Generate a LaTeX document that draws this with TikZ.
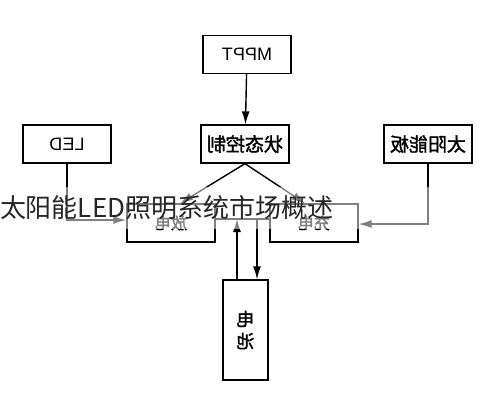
\documentclass[tikz,border=0pt]{standalone}
\usepackage{fontspec}
\usepackage{graphicx}
\setmainfont{Liberation Sans}
\newfontfamily\cjk{Noto Sans CJK SC}
\newfontfamily\cjkbold[FakeBold=1.5]{Noto Sans CJK SC}
\usetikzlibrary{arrows.meta, calc}
\newcommand{\flip}[1]{\reflectbox{#1}}

\begin{document}
\begin{tikzpicture}[
    x=1pt, y=-1pt,
    unit/.style={rectangle, draw=black, line width=1.3pt, fill=white,
        minimum width=88pt, minimum height=38pt, inner sep=0pt,
        text centered, text=black, font=\fontsize{18}{20}\selectfont},
    label/.style={unit, font=\cjkbold\fontsize{19}{21}\selectfont},
    part/.style={unit, font=\cjkbold\fontsize{16}{18}\selectfont},
    cell/.style={unit, minimum width=45pt, minimum height=100pt,
        font=\cjkbold\fontsize{18}{22}\selectfont},
    caption/.style={rectangle, draw=none, fill=white, fill opacity=0.5,
        text opacity=1, text width=496pt, minimum height=42pt, inner sep=0pt,
        align=left, text=black!85, font=\cjk\fontsize{26}{28}\selectfont},
    link/.style={draw=black, line width=1.4pt},
    flow/.style={link, -{Latex[length=13pt,width=8pt]}}
]
\useasboundingbox (0,0) rectangle (496,400);
% blocks
\node (mppt) [unit] at (247,54.5) {\flip{MPPT}};
\node (ctrl) [label] at (245,144) {\flip{状态控制}};
\node (led) [unit] at (67,144) {\flip{LED}};
\node (panel) [label] at (428,144) {\flip{太阳能板}};
\node (dis) [part] at (171,223) {\flip{放电}};
\node (chg) [part] at (314,223) {\flip{充电}};
\node (bat) [cell, align=center] at (245.5,330) {\flip{电}\\\flip{池}};
% connectors
\coordinate (tap1) at (237,219);
\coordinate (tap2) at (257,219);
\draw [flow] (mppt) -- (ctrl);
\draw [flow] (ctrl.south) -- ([xshift=9pt]dis.north);
\draw [flow] (ctrl.south) -- ([xshift=-9pt]chg.north);
\draw [flow] (led.south) |- ([yshift=3pt]dis.west);
\draw [flow] (panel.south) |- ([yshift=-1pt]chg.east);
\draw [link] ([yshift=4pt]dis.east) -- ([yshift=4pt]chg.west);
\draw [flow] (bat.north -| tap1) -- (tap1);
\draw [flow] (tap2) -- (bat.north -| tap2);
% title band
\node (title) [caption] at (248,208) {太阳能LED照明系统市场概述};
\end{tikzpicture}
\end{document}
